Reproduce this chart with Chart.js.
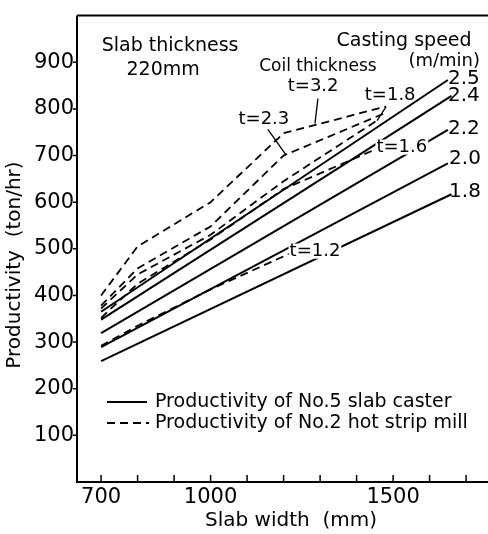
<!DOCTYPE html>
<html><head><meta charset="utf-8">
<style>html,body{margin:0;padding:0;background:#fff}#wrap{width:488px;height:534px}</style>
<script src="https://cdn.jsdelivr.net/npm/chart.js@4.4.1/dist/chart.umd.min.js"></script>
</head><body><div id="wrap"><canvas id="c" width="488" height="534"></canvas></div>
<script>
// ---- data ----
const xTicks = [700, 800, 900, 1000, 1100, 1200, 1300, 1400, 1500, 1600, 1700];
const xTickLabels = [700, 1000, 1500];
const yTicks = [0, 100, 200, 300, 400, 500, 600, 700, 800, 900, 1000];
const yTickLabels = [100, 200, 300, 400, 500, 600, 700, 800, 900];

// Productivity of No.5 slab caster (solid), by casting speed (m/min)
const speedNames = ['2.5', '2.4', '2.2', '2.0', '1.8'];
const caster25 = [[700, 365], [1650, 862]];
const caster24 = [[700, 348], [1660, 828]];
const caster22 = [[700, 319], [1650, 755]];
const caster20 = [[700, 289], [1650, 683]];
const caster18 = [[700, 259], [1660, 617]];

// Productivity of No.2 hot strip mill (dashed), by coil thickness t
const coilNames = ['t=3.2', 't=2.3', 't=1.8', 't=1.6', 't=1.2'];
const coil32 = [[700, 400], [800, 505], [1000, 600], [1200, 748], [1480, 805]];
const coil23 = [[700, 378], [800, 458], [1000, 548], [1200, 700], [1475, 790]];
const coil18 = [[700, 372], [800, 445], [1000, 530], [1200, 645], [1456, 775]];
const coil16 = [[700, 352], [800, 425], [1000, 520], [1200, 628], [1472, 720]];
const coil12 = [[700, 292], [800, 335], [1000, 413], [1226, 493]];

// ---- annotations (data coordinates) ----
const notes = [
  {t: 'Slab thickness', x: 889, y: 934, s: 19},
  {t: '220mm', x: 870, y: 883, s: 19},
  {t: 'Casting speed', x: 1530, y: 945, s: 19},
  {t: '(m/min)', x: 1640, y: 902, s: 18},
  {t: 'Coil thickness', x: 1294, y: 890, s: 17},
  {t: 't=3.2', x: 1281, y: 849, s: 18},
  {t: 't=2.3', x: 1146, y: 777, s: 18},
  {t: 't=1.8', x: 1492, y: 830, s: 18},
  {t: 't=1.6', x: 1524, y: 718, s: 18, bg: true},
  {t: 't=1.2', x: 1286, y: 495, s: 18, bg: true},
  {t: '2.5', x: 1694, y: 864, s: 20},
  {t: '2.4', x: 1694, y: 828, s: 20},
  {t: '2.2', x: 1694, y: 758, s: 20},
  {t: '2.0', x: 1697, y: 692, s: 20},
  {t: '1.8', x: 1697, y: 622, s: 20}
];
const leaders = [
  [[1294, 822], [1286, 769]],
  [[1157, 756], [1207, 701]],
  [[1481, 805], [1456, 775]]
];

const FONT = 'DejaVu Sans';
const pts = a => a.map(p => ({x: p[0], y: p[1]}));
const solid = a => ({data: pts(a), showLine: true, borderColor: '#000', borderWidth: 2, pointRadius: 0, fill: false});
const dashed = a => ({data: pts(a), showLine: true, borderColor: '#000', borderWidth: 1.8, borderDash: [8, 5], pointRadius: 0, fill: false});

const datasets = [
  solid(caster25), solid(caster24), solid(caster22), solid(caster20), solid(caster18),
  dashed(coil32), dashed(coil23), dashed(coil18), dashed(coil16), dashed(coil12)
];

const deco = {
  id: 'deco',
  afterDatasetsDraw(chart) {
    const {ctx, chartArea: ca, scales: {x, y}} = chart;
    ctx.save();
    ctx.strokeStyle = '#000';
    ctx.fillStyle = '#000';
    // frame: left, bottom, top
    ctx.lineWidth = 2;
    ctx.beginPath();
    ctx.moveTo(ca.left, ca.top); ctx.lineTo(ca.right, ca.top);
    ctx.moveTo(ca.left, ca.top); ctx.lineTo(ca.left, ca.bottom);
    ctx.lineTo(ca.right, ca.bottom);
    ctx.stroke();
    // ticks
    ctx.lineWidth = 1.5;
    ctx.beginPath();
    xTicks.forEach(v => { const px = x.getPixelForValue(v); ctx.moveTo(px, ca.bottom); ctx.lineTo(px, ca.bottom - 7); });
    yTickLabels.forEach(v => { const py = y.getPixelForValue(v); ctx.moveTo(ca.left - 4, py); ctx.lineTo(ca.left, py); });
    ctx.stroke();
    // leaders
    ctx.lineWidth = 1.3;
    ctx.beginPath();
    leaders.forEach(l => {
      ctx.moveTo(x.getPixelForValue(l[0][0]), y.getPixelForValue(l[0][1]));
      ctx.lineTo(x.getPixelForValue(l[1][0]), y.getPixelForValue(l[1][1]));
    });
    ctx.stroke();
    // notes
    ctx.textAlign = 'center';
    ctx.textBaseline = 'middle';
    notes.forEach(n => {
      ctx.font = n.s + 'px "' + FONT + '"';
      const px = x.getPixelForValue(n.x), py = y.getPixelForValue(n.y);
      if (n.bg) {
        const w = ctx.measureText(n.t).width;
        ctx.fillStyle = '#fff';
        ctx.fillRect(px - w / 2 - 1, py - n.s * 0.42, w + 2, n.s * 0.84);
        ctx.fillStyle = '#000';
      }
      ctx.fillText(n.t, px, py);
    });
    // legend
    ctx.lineWidth = 2;
    ctx.beginPath(); ctx.moveTo(107, 402); ctx.lineTo(147, 402); ctx.stroke();
    ctx.lineWidth = 1.8; ctx.setLineDash([8, 5]);
    ctx.beginPath(); ctx.moveTo(107, 423); ctx.lineTo(149, 423); ctx.stroke();
    ctx.setLineDash([]);
    ctx.textAlign = 'left';
    ctx.font = '19px "' + FONT + '"';
    ctx.fillText('Productivity of No.5 slab caster', 155, 402);
    ctx.fillText('Productivity of No.2 hot strip mill', 155, 423);
    // axis titles
    ctx.font = '20px "' + FONT + '"';
    ctx.textAlign = 'center';
    ctx.fillText('Slab width  (mm)', 291, 521);
    ctx.save();
    ctx.translate(15, 265);
    ctx.rotate(-Math.PI / 2);
    ctx.fillText('Productivity  (ton/hr)', 0, 0);
    ctx.restore();
    ctx.restore();
  }
};

new Chart(document.getElementById('c').getContext('2d'), {
  type: 'scatter',
  data: {datasets},
  options: {
    responsive: false, animation: false, devicePixelRatio: 1,
    layout: {padding: {top: 11, left: 0, right: 0, bottom: 0}},
    plugins: {legend: {display: false}, tooltip: {enabled: false}},
    scales: {
      x: {
        type: 'linear', min: 634, max: 1760,
        afterFit(s) { s.height = 52; },
        afterBuildTicks(s) { s.ticks = xTicks.map(v => ({value: v})); },
        ticks: {autoSkip: false, maxRotation: 0, padding: 3, color: '#000',
          font: {family: FONT, size: 21},
          callback: v => xTickLabels.includes(v) ? String(v) : ''},
        grid: {display: false, drawTicks: false},
        border: {display: false}
      },
      y: {
        type: 'linear', min: 0, max: 1000,
        afterFit(s) { s.width = 77; },
        afterBuildTicks(s) { s.ticks = yTicks.map(v => ({value: v})); },
        ticks: {autoSkip: false, padding: 3, color: '#000',
          font: {family: FONT, size: 21},
          callback: v => yTickLabels.includes(v) ? String(v) : ''},
        grid: {display: false, drawTicks: false},
        border: {display: false}
      }
    }
  },
  plugins: [deco]
});
</script></body></html>
